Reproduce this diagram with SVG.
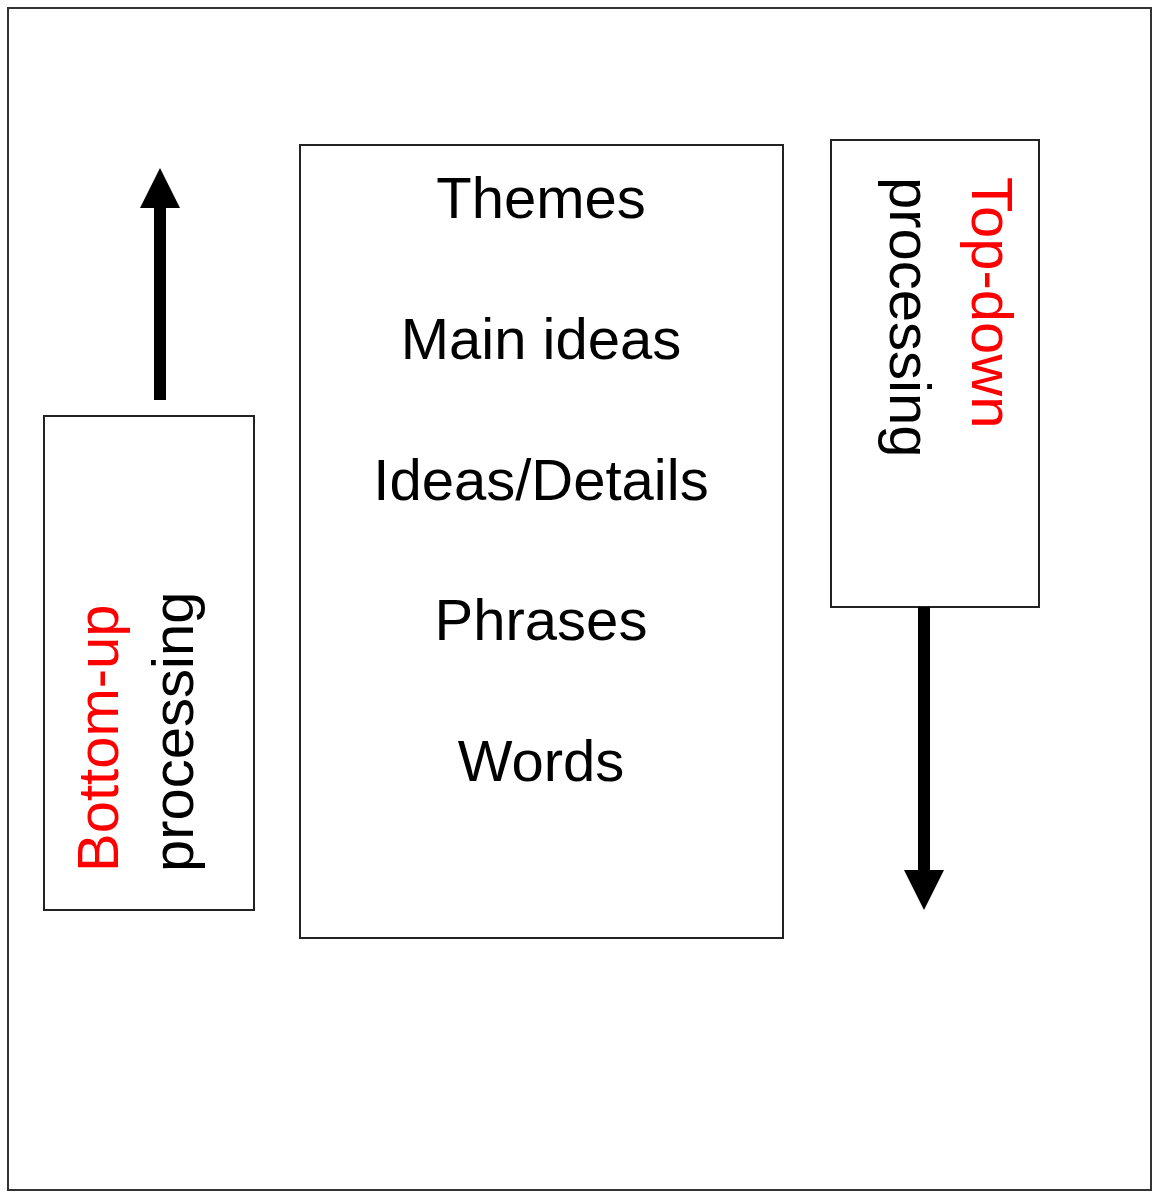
<svg xmlns="http://www.w3.org/2000/svg" width="1159" height="1200" viewBox="0 0 1159 1200">
<style>
.b{fill:#fff;stroke:#222;stroke-width:2}
.t{font-family:"Liberation Sans",Arial,sans-serif;font-size:58px;fill:#000}
.r{fill:#f00}
.a{stroke:#000;stroke-width:12}
</style>
<rect width="1159" height="1200" fill="#fff"/>
<rect x="8" y="8" width="1143" height="1182" fill="none" stroke="#333" stroke-width="2"/>
<g id="bottomup"><rect class="b" x="44" y="416" width="210" height="494"/>
<text class="t r" transform="translate(118,872) rotate(-90)">Bottom-up</text>
<text class="t" transform="translate(193,872) rotate(-90)">processing</text></g>
<g id="levels"><rect class="b" x="300" y="145" width="483" height="793"/>
<g class="t" text-anchor="middle">
<text x="541" y="218">Themes</text><text x="541" y="359">Main ideas</text><text x="541" y="500">Ideas/Details</text><text x="541" y="640">Phrases</text><text x="541" y="781">Words</text></g></g>
<g id="topdown"><rect class="b" x="831" y="140" width="208" height="467"/>
<text class="t r" transform="translate(972,177) rotate(90)">Top-down</text>
<text class="t" transform="translate(890,177) rotate(90)">processing</text></g>
<g id="connectors">
<line class="a" x1="160" y1="400" x2="160" y2="205"/><polygon points="140,208 180,208 160,168"/>
<line class="a" x1="924" y1="607" x2="924" y2="873"/><polygon points="904,870 944,870 924,910"/>
</g>
</svg>
